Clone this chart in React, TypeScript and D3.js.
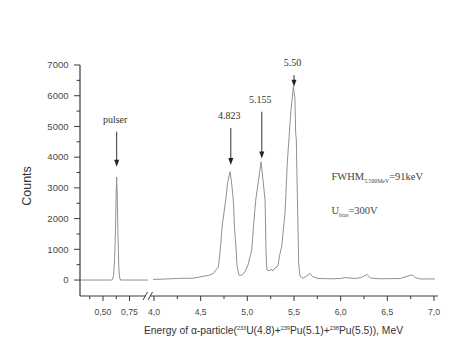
import React from 'react';
import * as d3 from 'd3';

// Pulser segment (low energy part, before the axis break)
const pulserEnergy = [0.285, 0.58, 0.59, 0.60, 0.61, 0.618, 0.624, 0.629, 0.634, 0.64, 0.648, 0.655, 0.665, 0.925];
const pulserCounts = [0, 0, 20, 150, 700, 1700, 2800, 3350, 2800, 1700, 500, 100, 0, 0];

// Alpha spectrum segment (after the axis break)
const alphaEnergy = [
  3.99, 4.1, 4.28, 4.42, 4.49, 4.58, 4.63, 4.69, 4.71, 4.73, 4.768, 4.79, 4.815, 4.83, 4.85, 4.862, 4.88, 4.89,
  4.91, 4.94, 4.975, 5.007, 5.047, 5.066, 5.09, 5.12, 5.147, 5.168, 5.19, 5.2, 5.205, 5.21,
  5.232, 5.254, 5.275, 5.296, 5.318, 5.33, 5.345, 5.368, 5.404, 5.428, 5.465, 5.493,
  5.51, 5.518, 5.525, 5.529, 5.54, 5.55, 5.564, 5.596, 5.65, 5.67, 5.70, 5.757,
  5.9, 6.0, 6.05, 6.15, 6.22, 6.28, 6.32, 6.42, 6.64, 6.69, 6.763, 6.8, 6.85, 7.01
];
const alphaCounts = [
  20, 30, 55, 60, 100, 150, 200, 430, 980, 1750, 2600, 3200, 3530, 3200, 2600, 1750, 980, 450,
  160, 160, 270, 490, 980, 1750, 2600, 3250, 3850, 3250, 2600, 980, 550, 330,
  300, 350, 300, 400, 420, 490, 800, 1085, 2180, 3800, 5440, 6300,
  5900, 4775, 4560, 3800, 2180, 550, 130, 55, 160, 220, 110, 50,
  40, 50, 80, 50, 80, 180, 65, 40, 50, 100, 170, 80, 35, 35
];

const yMajorTicks = [0, 1000, 2000, 3000, 4000, 5000, 6000, 7000];
const yMinorTicks = [500, 1500, 2500, 3500, 4500, 5500, 6500];
const xLowMajor = [0.5, 0.75];
const xLowMajorLabels = ['0,50', '0,75'];
const xLowMinor = [0.375, 0.625];
const xHighMajor = [4.0, 4.5, 5.0, 5.5, 6.0, 6.5, 7.0];
const xHighMajorLabels = ['4,0', '4,5', '5,0', '5,5', '6,0', '6,5', '7,0'];
const xHighMinor = [4.25, 4.75, 5.25, 5.75, 6.25, 6.75];

const peakLabels = ['pulser', '4.823', '5.155', '5.50'];
const peakEnergies = [0.629, 4.823, 5.155, 5.50];
const peakSegments = ['low', 'high', 'high', 'high'];
const arrowTopCounts = [4830, 4950, 5480, 6670];
const arrowTipCounts = [3690, 3745, 3960, 6290];

export default function App() {
  const y = d3.scaleLinear().domain([-500, 7000]).range([295.4, 65]);
  const xLow = d3.scaleLinear().domain([0.5, 0.75]).range([103, 129.5]);
  const xHigh = d3.scaleLinear().domain([4, 7]).range([154, 434]);

  const lineLow = d3.line<number>().x((d) => xLow(d)).y((_, i) => y(pulserCounts[i]));
  const lineHigh = d3.line<number>().x((d) => xHigh(d)).y((_, i) => y(alphaCounts[i]));

  const axisY = 296;
  const axisX = 80;
  const axisColor = '#3a3a3a';
  const textColor = '#4a4a4a';
  const lineColor = '#909090';
  const sans = 'Liberation Sans, Arial, sans-serif';
  const serif = 'Liberation Serif, Times New Roman, serif';

  return (
    <svg width={474} height={355} style={{ position: 'absolute', left: 0, top: 0, background: '#fff' }}>
      <rect x={0} y={0} width={474} height={355} fill="#fff" />

      {/* spectrum */}
      <path d={lineLow(pulserEnergy) || ''} fill="none" stroke={lineColor} strokeWidth={1} />
      <path d={lineHigh(alphaEnergy) || ''} fill="none" stroke={lineColor} strokeWidth={1} />

      {/* y axis */}
      <line x1={axisX} x2={axisX} y1={y(7000)} y2={axisY} stroke={axisColor} strokeWidth={1.2} />
      {yMajorTicks.map((t) => (
        <g key={'ym' + t}>
          <line x1={axisX - 6} x2={axisX} y1={y(t)} y2={y(t)} stroke={axisColor} strokeWidth={1} />
          <text x={68.5} y={y(t) + 3.3} textAnchor="end" fontSize={9.5} fontFamily={sans} fill={textColor}>{t}</text>
        </g>
      ))}
      {yMinorTicks.map((t) => (
        <line key={'yn' + t} x1={axisX - 3.5} x2={axisX} y1={y(t)} y2={y(t)} stroke={axisColor} strokeWidth={1} />
      ))}
      <text transform={`translate(31,${186}) rotate(-90)`} textAnchor="middle" fontSize={12.5} fontFamily={sans} fill="#333">Counts</text>

      {/* x axis with break */}
      <line x1={axisX} x2={145.5} y1={axisY} y2={axisY} stroke={axisColor} strokeWidth={1.2} />
      <line x1={150.5} x2={438} y1={axisY} y2={axisY} stroke={axisColor} strokeWidth={1.2} />
      <line x1={143} x2={147.5} y1={axisY + 4} y2={axisY - 4} stroke={axisColor} strokeWidth={1} />
      <line x1={148} x2={152.5} y1={axisY + 4} y2={axisY - 4} stroke={axisColor} strokeWidth={1} />
      {xLowMajor.map((t, i) => (
        <g key={'xlm' + t}>
          <line x1={xLow(t)} x2={xLow(t)} y1={axisY} y2={axisY + 5} stroke={axisColor} strokeWidth={1} />
          <text x={xLow(t)} y={315} textAnchor="middle" fontSize={8.7} fontFamily={sans} fill={textColor}>{xLowMajorLabels[i]}</text>
        </g>
      ))}
      {xLowMinor.map((t) => (
        <line key={'xln' + t} x1={xLow(t)} x2={xLow(t)} y1={axisY} y2={axisY + 3} stroke={axisColor} strokeWidth={1} />
      ))}
      {xHighMajor.map((t, i) => (
        <g key={'xhm' + t}>
          <line x1={xHigh(t)} x2={xHigh(t)} y1={axisY} y2={axisY + 5} stroke={axisColor} strokeWidth={1} />
          <text x={xHigh(t)} y={315} textAnchor="middle" fontSize={8.7} fontFamily={sans} fill={textColor}>{xHighMajorLabels[i]}</text>
        </g>
      ))}
      {xHighMinor.map((t) => (
        <line key={'xhn' + t} x1={xHigh(t)} x2={xHigh(t)} y1={axisY} y2={axisY + 3} stroke={axisColor} strokeWidth={1} />
      ))}
      <text x={273.5} y={334} textAnchor="middle" fontSize={10.3} fontFamily={sans} fill="#333">
        Energy of α-particle(
        <tspan fontSize={5.5} dy={-4.5}>233</tspan>
        <tspan dy={4.5}>U(4.8)+</tspan>
        <tspan fontSize={5.5} dy={-4.5}>239</tspan>
        <tspan dy={4.5}>Pu(5.1)+</tspan>
        <tspan fontSize={5.5} dy={-4.5}>238</tspan>
        <tspan dy={4.5}>Pu(5.5)), MeV</tspan>
      </text>

      {/* peak annotations */}
      {peakLabels.map((lab, i) => {
        const px = peakSegments[i] === 'low' ? xLow(peakEnergies[i]) : xHigh(peakEnergies[i]);
        const top = y(arrowTopCounts[i]);
        const tip = y(arrowTipCounts[i]);
        return (
          <g key={lab}>
            <text x={px - 1.5} y={top - 9} textAnchor="middle" fontSize={10} fontFamily={serif} fill="#333">{lab}</text>
            <line x1={px} x2={px} y1={top} y2={tip - 5} stroke="#333" strokeWidth={1} />
            <path d={`M${px - 2.5},${tip - 7} L${px + 2.5},${tip - 7} L${px},${tip} Z`} fill="#222" />
          </g>
        );
      })}

      {/* info text */}
      <text x={331.5} y={179.5} fontSize={10.5} fontFamily={serif} fill="#444">
        FWHM<tspan fontSize={5.8} dy={3}>5.500MeV</tspan><tspan dy={-3}>=91keV</tspan>
      </text>
      <text x={331.5} y={213.5} fontSize={10.5} fontFamily={serif} fill="#444">
        U<tspan fontSize={5.8} dy={3}>bias</tspan><tspan dy={-3}>=300V</tspan>
      </text>
    </svg>
  );
}
